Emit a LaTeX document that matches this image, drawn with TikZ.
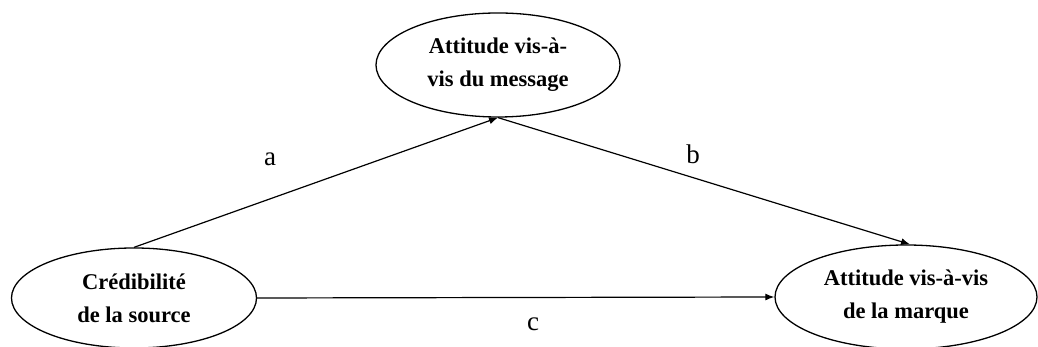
\documentclass[tikz,border=0pt]{standalone}
\usepackage{fontspec}
\setmainfont{Liberation Serif}
\usetikzlibrary{shapes.geometric,arrows.meta}
\begin{document}
\begin{tikzpicture}[x=1pt,y=1pt,
  latent/.style={ellipse,draw,line width=1.3pt,inner sep=0pt,align=center,
    font=\fontsize{22.5}{33}\selectfont\bfseries},
  conn/.style={line width=1.2pt,-{Latex[length=9pt,width=7pt]}},
  lbl/.style={font=\fontsize{27}{30}\selectfont}]
\useasboundingbox (0,0) rectangle (1038,347);
\node[latent,minimum width=244pt,minimum height=104pt] (msg) at (498,282) {Attitude vis-à-\\vis du message};
\node[latent,minimum width=245pt,minimum height=100pt] (src) at (134,49) {Crédibilité\\de la source};
\node[latent,minimum width=262pt,minimum height=104pt] (brand) at (906,50) {Attitude vis-à-vis\\de la marque};
\draw[conn] (src.north) -- (msg.south);
\draw[conn] (msg.south) -- ([xshift=4pt]brand.north);
\draw[conn] (src.east) -- (brand.west);
\node[lbl] (la) at (270,188) {a};
\node[lbl] (lb) at (693,193) {b};
\node[lbl] (lc) at (533,23) {c};
\end{tikzpicture}
\end{document}
